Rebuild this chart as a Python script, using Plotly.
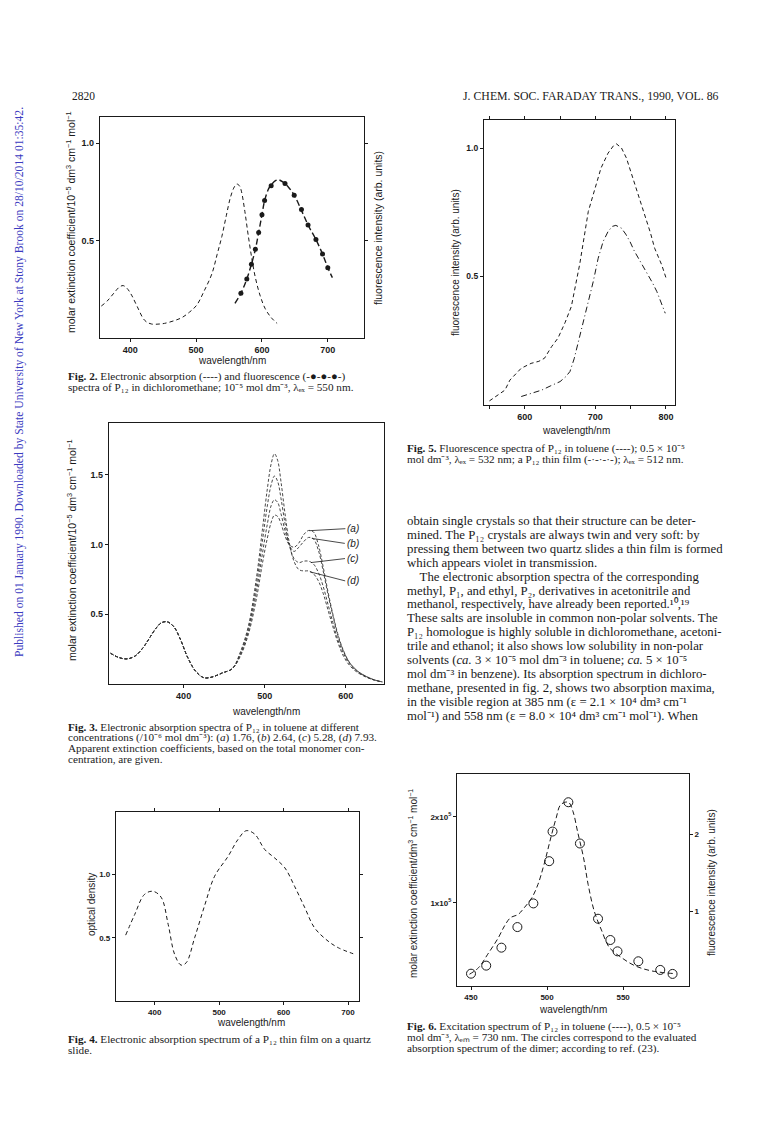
import plotly.graph_objects as go

W, H = 769, 1128

# ---------------- data ----------------
# Fig. 2 absorption (dashed)
f2_abs_wl = [356, 365, 375, 383, 389, 395, 402, 410, 422, 432, 445, 452, 465, 478, 490, 501, 512, 524, 532, 539,
             546, 552, 558, 562, 566, 569, 574, 579, 585, 590, 597, 605, 614, 623]
f2_abs_val = [0.164, 0.19, 0.23, 0.26, 0.269, 0.255, 0.22, 0.165, 0.09, 0.072, 0.072, 0.075, 0.087, 0.104, 0.133,
              0.169, 0.24, 0.33, 0.43, 0.52, 0.63, 0.72, 0.775, 0.79, 0.78, 0.75, 0.65, 0.53, 0.40, 0.31, 0.22,
              0.15, 0.105, 0.075]
# Fig. 2 fluorescence line and points
f2_fl_wl = [559, 568, 577, 584, 590, 595, 600, 604, 610, 614, 620, 625, 632, 640, 649, 660, 670, 682, 692, 700, 707]
f2_fl_val = [0.178, 0.229, 0.303, 0.378, 0.455, 0.541, 0.632, 0.705, 0.765, 0.785, 0.806, 0.812, 0.80, 0.775,
             0.733, 0.655, 0.580, 0.505, 0.431, 0.361, 0.31]
f2_pts_wl = [568, 577, 584, 590, 595, 600, 604, 614, 635, 649, 660, 670, 682, 692, 700]
f2_pts_val = [0.229, 0.303, 0.378, 0.455, 0.541, 0.632, 0.705, 0.781, 0.793, 0.733, 0.659, 0.58, 0.505, 0.431, 0.361]

# Fig. 3 four concentrations
f3_wl = [310, 320, 330, 340, 350, 358, 366, 373, 380, 388, 396, 405, 415, 425, 435, 448, 460, 470, 480, 490, 497,
         503, 508, 512, 516, 520, 525, 530, 536, 542, 548, 554, 560, 566, 572, 578, 584, 590, 597, 605, 615, 625,
         635, 645]
f3_base = [0.22, 0.19, 0.18, 0.2, 0.26, 0.33, 0.4, 0.44, 0.445, 0.41, 0.32, 0.19, 0.09, 0.045, 0.05, 0.08, 0.11]
f3_a = f3_base + [0.2, 0.36, 0.62, 0.86, 1.04, 1.16, 1.21, 1.2, 1.15, 1.06, 1.0, 0.98, 1.01, 1.07, 1.1, 1.09, 1.0,
                  0.84, 0.66, 0.5, 0.36, 0.24, 0.15, 0.09, 0.055, 0.03, 0.015]
f3_b = f3_base + [0.21, 0.38, 0.67, 0.93, 1.14, 1.28, 1.32, 1.3, 1.22, 1.1, 1.0, 0.95, 0.98, 1.02, 1.05, 1.04, 0.96,
                  0.81, 0.64, 0.49, 0.35, 0.235, 0.15, 0.09, 0.055, 0.03, 0.015]
f3_c = f3_base + [0.22, 0.4, 0.72, 1.02, 1.27, 1.43, 1.49, 1.45, 1.33, 1.15, 1.0, 0.9, 0.87, 0.88, 0.88, 0.86, 0.8,
                  0.7, 0.57, 0.44, 0.32, 0.22, 0.14, 0.085, 0.05, 0.028, 0.015]
f3_d = f3_base + [0.23, 0.42, 0.77, 1.1, 1.39, 1.58, 1.65, 1.6, 1.45, 1.22, 1.02, 0.88, 0.82, 0.81, 0.81, 0.79, 0.74,
                  0.65, 0.53, 0.41, 0.3, 0.2, 0.13, 0.08, 0.05, 0.028, 0.015]
f3_labels = ["(a)", "(b)", "(c)", "(d)"]

# Fig. 4 thin film absorption
f4_wl = [355, 369, 384, 397, 410, 421, 431, 441, 449, 462, 478, 493, 514, 529, 542, 555, 571, 586, 602, 617, 633,
         648, 669, 685, 708]
f4_val = [0.521, 0.684, 0.842, 0.868, 0.821, 0.605, 0.368, 0.284, 0.303, 0.5, 0.763, 0.987, 1.145, 1.276, 1.347,
          1.321, 1.197, 1.132, 1.053, 0.908, 0.737, 0.579, 0.474, 0.421, 0.374]

# Fig. 5 fluorescence: toluene (dashed) and thin film (dash-dot)
f5_tol_wl = [550, 560, 572, 579, 588, 595, 609, 620, 628, 638, 647, 657, 666, 671, 678, 690, 700, 708, 718, 726, 730,
             737, 744, 750, 756, 768, 778, 784, 794, 801]
f5_tol_val = [0.016, 0.035, 0.058, 0.097, 0.125, 0.143, 0.162, 0.170, 0.182, 0.227, 0.26, 0.32, 0.383, 0.455, 0.55,
              0.753, 0.85, 0.922, 0.98, 1.01, 1.016, 1.0, 0.961, 0.91, 0.857, 0.753, 0.67, 0.61, 0.545, 0.487]
f5_film_wl = [595, 610, 624, 637, 650, 658, 664, 670, 676, 683, 690, 697, 704, 711, 718, 724, 729, 737, 743, 749,
              755, 761, 768, 775, 781, 787, 793, 799]
f5_film_val = [0.033, 0.045, 0.058, 0.075, 0.091, 0.11, 0.13, 0.18, 0.247, 0.32, 0.403, 0.48, 0.571, 0.636, 0.675,
               0.695, 0.699, 0.688, 0.665, 0.636, 0.60, 0.571, 0.54, 0.506, 0.475, 0.442, 0.40, 0.357]

# Fig. 6 excitation spectrum (dashed, left axis, units of 1e5) and dimer circles (right axis, arb. units)
f6_wl = [449, 455, 461, 468, 472, 476, 481, 485, 490, 494, 498, 503, 506, 509, 514, 517, 520, 524, 527, 531, 536,
         541, 549, 558, 569, 584]
f6_val = [0.167, 0.244, 0.4, 0.593, 0.729, 0.826, 0.864, 0.942, 1.058, 1.213, 1.446, 1.795, 1.988, 2.143, 2.171,
          2.066, 1.833, 1.523, 1.213, 0.903, 0.671, 0.477, 0.36, 0.264, 0.205, 0.174]
f6_pts_wl = [450, 460, 470, 480.5, 491, 501.4, 503.6, 514, 521.6, 533.5, 541.6, 546.3, 560, 574.4, 582.5]
f6_pts_val = [0.181, 0.286, 0.521, 0.79, 1.099, 1.651, 2.038, 2.421, 1.882, 0.899, 0.621, 0.473, 0.343, 0.230,
              0.178]

# ---------------- helpers ----------------
def xd(p0, p1):
    return [p0 / W, p1 / W]

def yd(top, bottom):
    return [1 - bottom / H, 1 - top / H]

def px(x):
    return x / W

def py(y):
    return 1 - y / H

INK = "#1a1a1a"
SANS = "Liberation Sans"
SERIF = "Liberation Serif"

def tf(size):
    return dict(family=SANS, size=size, color=INK, weight="bold")

def axis(dom, rng, tickvals=None, ticktext=None, mirror=True, anchor=None, **kw):
    d = dict(domain=dom, range=rng, showline=True, linecolor=INK, linewidth=1.2, mirror=mirror,
             showgrid=False, zeroline=False, ticks="outside", ticklen=3, tickwidth=1, tickcolor=INK,
             tickfont=tf(9), anchor=anchor, fixedrange=True)
    if tickvals is not None:
        d["tickmode"] = "array"
        d["tickvals"] = tickvals
        d["ticktext"] = ticktext if ticktext is not None else [str(v) for v in tickvals]
    d.update(kw)
    return d

fig = go.Figure()

dash_style = dict(color=INK, width=1, dash="4px,3px")

# Fig 2
fig.add_trace(go.Scatter(x=f2_abs_wl, y=f2_abs_val, mode="lines", line=dash_style, line_shape="spline",
                         xaxis="x", yaxis="y", showlegend=False))
fig.add_trace(go.Scatter(x=f2_fl_wl, y=f2_fl_val, mode="lines", line=dict(color=INK, width=1.4, dash="6px,3px"),
                         line_shape="spline", xaxis="x", yaxis="y", showlegend=False))
fig.add_trace(go.Scatter(x=f2_pts_wl, y=f2_pts_val, mode="markers", marker=dict(color=INK, size=5),
                         xaxis="x", yaxis="y", showlegend=False))
# Fig 3
for vals in [f3_a, f3_b, f3_c, f3_d]:
    fig.add_trace(go.Scatter(x=f3_wl, y=vals, mode="lines", line=dict(color="#333", width=0.9, dash="3px,2px"),
                             line_shape="spline", xaxis="x2", yaxis="y2", showlegend=False))
# Fig 4
fig.add_trace(go.Scatter(x=f4_wl, y=f4_val, mode="lines", line=dash_style, line_shape="spline",
                         xaxis="x3", yaxis="y3", showlegend=False))
# Fig 5
fig.add_trace(go.Scatter(x=f5_tol_wl, y=f5_tol_val, mode="lines", line=dash_style,
                         xaxis="x4", yaxis="y4", showlegend=False))
fig.add_trace(go.Scatter(x=f5_film_wl, y=f5_film_val, mode="lines",
                         line=dict(color=INK, width=1, dash="6px,3px,1px,3px"),
                         xaxis="x4", yaxis="y4", showlegend=False))
# Fig 6
fig.add_trace(go.Scatter(x=f6_wl, y=[v * 1e5 for v in f6_val], mode="lines",
                         line=dict(color=INK, width=1, dash="5px,3px"), line_shape="spline",
                         xaxis="x5", yaxis="y5", showlegend=False))
fig.add_trace(go.Scatter(x=f6_pts_wl, y=f6_pts_val, mode="markers",
                         marker=dict(symbol="circle-open", size=9, color=INK, line=dict(width=1)),
                         xaxis="x5", yaxis="y6", showlegend=False))

layout = dict(
    width=W, height=H, margin=dict(l=0, r=0, t=0, b=0, autoexpand=False),
    paper_bgcolor="white", plot_bgcolor="white", showlegend=False,
    xaxis=axis(xd(92, 356), [354, 755], [400, 500, 600, 700], anchor="y"),
    yaxis=axis(yd(109, 330), [0, 1.134], [0.5, 1.0], ["0.5", "1.0"], mirror="ticks", anchor="x"),
    xaxis2=axis(xd(101, 376), [308, 647], [400, 500, 600], anchor="y2"),
    yaxis2=axis(yd(415, 676), [0, 1.87], [0.5, 1.0, 1.5], ["0.5", "1.0", "1.5"], anchor="x2"),
    xaxis3=axis(xd(108, 351), [340, 717], [400, 500, 600, 700], mirror="ticks", anchor="y3", tickfont=tf(8)),
    yaxis3=axis(yd(804, 993), [0, 1.495], [0.5, 1.0], ["0.5", "1.0"], mirror="ticks", anchor="x3",
                tickfont=tf(8)),
    xaxis4=axis(xd(476, 667), [542.3, 812.8], [550, 600, 650, 700, 750, 800], ["", "600", "", "700", "", "800"],
                mirror="ticks", anchor="y4"),
    yaxis4=axis(yd(112, 397), [0, 1.109], [0.5, 1.0], ["0.5", "1.0"], anchor="x4", tickfont=tf(8.5)),
    xaxis5=axis(xd(449, 681), [440.8, 593.3], [450, 500, 550], anchor="y5", tickfont=tf(8)),
    yaxis5=axis(yd(766, 978), [3e3, 2.5e5], [1e5, 2e5], ["1x10<sup>5</sup>", "2x10<sup>5</sup>"], anchor="x5",
                tickfont=tf(8)),
    yaxis6=dict(domain=yd(766, 978), range=[0.02, 2.79], tickmode="array", tickvals=[1, 2], ticktext=["1", "2"],
                anchor="x5", overlaying="y5", side="right", showline=False, showgrid=False, zeroline=False,
                ticks="outside", ticklen=3, tickwidth=1, tickcolor=INK, tickfont=tf(8), fixedrange=True),
)
fig.update_layout(**layout)

ann = []

def text(x, y, s, size=10, family=SANS, anchor="center", angle=0, color=INK, yanchor="middle"):
    ann.append(dict(x=px(x), y=py(y), xref="paper", yref="paper", text=s, showarrow=False,
                    xanchor=anchor, yanchor=yanchor, textangle=angle,
                    font=dict(family=family, size=size, color=color)))

ylab1 = "molar extinction coefficient/10<sup>−5</sup> dm<sup>3</sup> cm<sup>−1</sup> mol<sup>−1</sup>"
# Fig 2 labels
text(224, 352, "wavelength/nm", 10)
text(63, 214, ylab1, 10.5, angle=-90)
text(370, 220, "fluorescence intensity (arb. units)", 10.5, angle=-90)
# Fig 3 labels
text(258, 703, "wavelength/nm", 10)
text(63, 542, ylab1, 10.5, angle=-90)
# Fig 4 labels
text(243, 1014, "wavelength/nm", 10)
text(83, 897, "optical density", 10, angle=-90)
# Fig 5 labels
text(568, 422, "wavelength/nm", 10)
text(447, 255, "fluorescence intensity (arb. units)", 10, angle=-90)
# Fig 6 labels
text(565, 1001, "wavelength/nm", 10)
text(405, 876, "molar extinction coefficient/dm<sup>3</sup> cm<sup>−1</sup> mol<sup>−1</sup>", 10, angle=-90)
text(703, 875, "fluorescence intensity (arb. units)", 10, angle=-90)

# Fig 3 leader labels
label_targets = [(555, f3_a, 36, -2), (558, f3_b, 33, 5), (557, f3_c, 34, -4), (556, f3_d, 35, 9)]
for lab, (wl, arr, dx, dy) in zip(f3_labels, label_targets):
    yv = arr[-1]
    for i in range(len(f3_wl) - 1):
        if f3_wl[i] <= wl <= f3_wl[i + 1]:
            t = (wl - f3_wl[i]) / (f3_wl[i + 1] - f3_wl[i])
            yv = arr[i] + t * (arr[i + 1] - arr[i])
            break
    ann.append(dict(x=wl, y=yv, xref="x2", yref="y2", text="<i>" + lab + "</i>", showarrow=True,
                    arrowhead=0, arrowwidth=0.8, arrowcolor=INK, ax=dx, ay=dy, xanchor="left",
                    font=dict(family=SANS, size=10, color=INK)))

# Header
text(62, 88, "2820", 11.5, SERIF, anchor="left")
text(583, 88, "J. CHEM. SOC. FARADAY TRANS., 1990, VOL. 86", 11.8, SERIF)

# Watermark
text(12, 374, "Published on 01 January 1990. Downloaded by State University of New York at Stony Brook on "
     "28/10/2014 01:35:42.", 11.6, SERIF, angle=-90, color="#3a3ac0")

CAP = 11.2
def lines(x, y0, step, arr, size):
    for i, s in enumerate(arr):
        text(x, y0 + i * step, s, size, SERIF, anchor="left")

lines(58, 368, 11.2, [
    "<b>Fig. 2.</b> Electronic absorption (----) and fluorescence (-●-●-●-)",
    "spectra of P₁₂ in dichloromethane; 10⁻⁵ mol dm⁻³, λₑₓ = 550 nm.",
], CAP)
lines(58, 719, 10.7, [
    "<b>Fig. 3.</b> Electronic absorption spectra of P₁₂ in toluene at different",
    "concentrations (/10⁻⁶ mol dm⁻³): (<i>a</i>) 1.76, (<i>b</i>) 2.64, (<i>c</i>) 5.28, (<i>d</i>) 7.93.",
    "Apparent extinction coefficients, based on the total monomer con-",
    "centration, are given.",
], CAP)
lines(58, 1031, 11.2, [
    "<b>Fig. 4.</b> Electronic absorption spectrum of a P₁₂ thin film on a quartz",
    "slide.",
], CAP)
lines(397, 440, 11.2, [
    "<b>Fig. 5.</b> Fluorescence spectra of P₁₂ in toluene (----); 0.5 × 10⁻⁵",
    "mol dm⁻³, λₑₓ = 532 nm; a P₁₂ thin film (-·-·-·-); λₑₓ = 512 nm.",
], CAP)
lines(397, 1018, 11.2, [
    "<b>Fig. 6.</b> Excitation spectrum of P₁₂ in toluene (----), 0.5 × 10⁻⁵",
    "mol dm⁻³, λₑₘ = 730 nm. The circles correspond to the evaluated",
    "absorption spectrum of the dimer; according to ref. (23).",
], CAP)

lines(397, 513, 13.9, [
    "obtain single crystals so that their structure can be deter-",
    "mined. The P₁₂ crystals are always twin and very soft: by",
    "pressing them between two quartz slides a thin film is formed",
    "which appears violet in transmission.",
    "    The electronic absorption spectra of the corresponding",
    "methyl, P₁, and ethyl, P₂, derivatives in acetonitrile and",
    "methanol, respectively, have already been reported.¹⁰,¹⁹",
    "These salts are insoluble in common non-polar solvents. The",
    "P₁₂ homologue is highly soluble in dichloromethane, acetoni-",
    "trile and ethanol; it also shows low solubility in non-polar",
    "solvents (<i>ca.</i> 3 × 10⁻⁵ mol dm⁻³ in toluene; <i>ca.</i> 5 × 10⁻⁵",
    "mol dm⁻³ in benzene). Its absorption spectrum in dichloro-",
    "methane, presented in fig. 2, shows two absorption maxima,",
    "in the visible region at 385 nm (ε = 2.1 × 10⁴ dm³ cm⁻¹",
    "mol⁻¹) and 558 nm (ε = 8.0 × 10⁴ dm³ cm⁻¹ mol⁻¹). When",
], 12.8)

fig.update_layout(annotations=ann)
fig.write_html("out.html")
